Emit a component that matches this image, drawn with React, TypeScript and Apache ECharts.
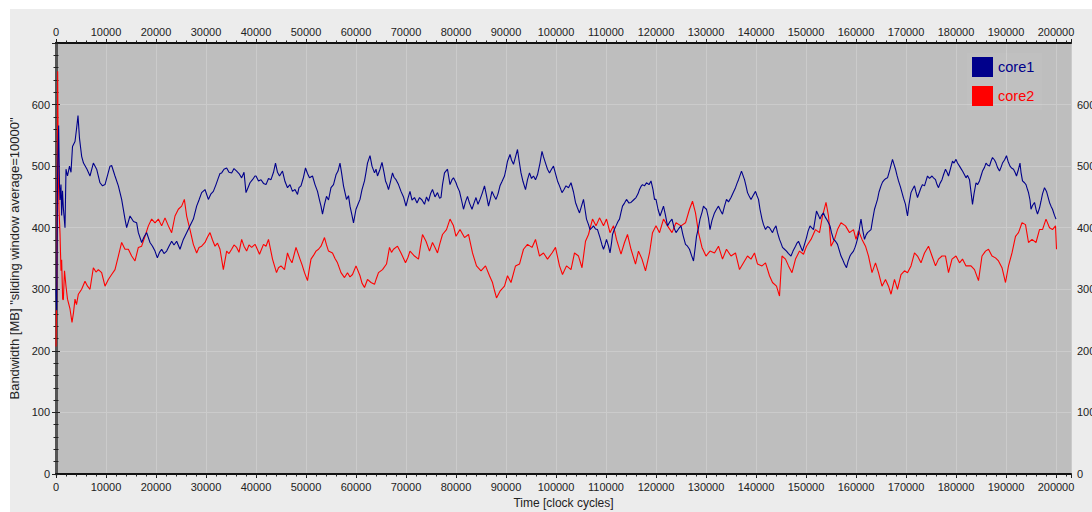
import React, { useEffect, useRef } from "react";
import * as echarts from "echarts";

const seriesNames = ["core1", "core2"];
const xTickStep = 10000;
const yTickStep = 100;

const core1Time = [0, 130, 300, 530, 700, 800, 1000, 1130, 1300, 1470, 1800, 2000, 2300, 2700, 3000, 3300, 3800, 4100, 4400, 4700, 5130, 5500, 6200, 6800, 7470, 8130, 8800, 9300, 9800, 10300, 10800, 11130, 11800, 12470, 13130, 13800, 14130, 14800, 15500, 16130, 16470, 17130, 17600, 18130, 18800, 19300, 19800, 20270, 20700, 21130, 21600, 22130, 22600, 23130, 23600, 24130, 24800, 25470, 26130, 26800, 27470, 28130, 28600, 29130, 29800, 30470, 31000, 31470, 32000, 32470, 32800, 33130, 33600, 34130, 34600, 35130, 35600, 36130, 36600, 37130, 37600, 38000, 38400, 38800, 39300, 39800, 40000, 40500, 41000, 41500, 42000, 42500, 43000, 43500, 43900, 44300, 44700, 45300, 45800, 46300, 46800, 47300, 47800, 48300, 48600, 49000, 49500, 49900, 50300, 50700, 51300, 51800, 52300, 52700, 53000, 53300, 53700, 54100, 54500, 55000, 55500, 56000, 56400, 56800, 57100, 57500, 58100, 58500, 58800, 59200, 59500, 60000, 60400, 60800, 61200, 61700, 62000, 62300, 62800, 63200, 63700, 64000, 64300, 64800, 65200, 65600, 65900, 66200, 66500, 66900, 67300, 67600, 68000, 68500, 69000, 69500, 70000, 70400, 70800, 71200, 71700, 72200, 72700, 73200, 73700, 74100, 74500, 74900, 75300, 75800, 76300, 76700, 77000, 77300, 77700, 78300, 78800, 79200, 79500, 80000, 80300, 80700, 81100, 81500, 81900, 82300, 82700, 83200, 83600, 84000, 84400, 84800, 85200, 85700, 86100, 86500, 86900, 87200, 87600, 88000, 88400, 88800, 89200, 89700, 90000, 90300, 90800, 91100, 91500, 91900, 92300, 92600, 93000, 93400, 93900, 94300, 94700, 95100, 95500, 95900, 96300, 96800, 97200, 97500, 97900, 98300, 98700, 99100, 99500, 99900, 100300, 100700, 101200, 101600, 102000, 102500, 103000, 103500, 103900, 104300, 104700, 105100, 105500, 105800, 106100, 106500, 106800, 107200, 107500, 107900, 108300, 108800, 109200, 109500, 109800, 110100, 110500, 110800, 111100, 111300, 111700, 112000, 112400, 112700, 113000, 113300, 113700, 114100, 114600, 115000, 115500, 116000, 116400, 116700, 117000, 117300, 117700, 118100, 118600, 119000, 119400, 119700, 120000, 120400, 120800, 121200, 121500, 121900, 122300, 122800, 123200, 123600, 124000, 124500, 125000, 125400, 125900, 126300, 126700, 127100, 127500, 127800, 128100, 128500, 128800, 129200, 129500, 129800, 130100, 130500, 130800, 131200, 131700, 132100, 132500, 132900, 133300, 133700, 134100, 134500, 135000, 135500, 135900, 136200, 136500, 136800, 137100, 137400, 137700, 138000, 138300, 138600, 139000, 139400, 139900, 140200, 140500, 140800, 141200, 141500, 141900, 142300, 142700, 143000, 143300, 143600, 144000, 144300, 144700, 145000, 145300, 145700, 146100, 146500, 147000, 147400, 147900, 148200, 148500, 148900, 149300, 149700, 150100, 150400, 150800, 151100, 151500, 151800, 152100, 152500, 152800, 153100, 153500, 153800, 154100, 154500, 154800, 155100, 155500, 155900, 156300, 156700, 157000, 157400, 157700, 158100, 158400, 158800, 159100, 159500, 159800, 160000, 160300, 160500, 160800, 161000, 161300, 161700, 162000, 162300, 162600, 163000, 163300, 163700, 164000, 164300, 164600, 165000, 165300, 165700, 166000, 166300, 166800, 167300, 167600, 167900, 168200, 168500, 168900, 169200, 169500, 169900, 170100, 170300, 170600, 171000, 171300, 171700, 172000, 172300, 172600, 173000, 173300, 173700, 174000, 174300, 174700, 175200, 175500, 175900, 176200, 176500, 176800, 177200, 177500, 177900, 178200, 178500, 178900, 179300, 179600, 180000, 180300, 180700, 181000, 181300, 181700, 182000, 182300, 182700, 183000, 183300, 183600, 184000, 184300, 184700, 185000, 185300, 185700, 186000, 186300, 186700, 187000, 187300, 187700, 188000, 188300, 188700, 189000, 189300, 189700, 190100, 190400, 190800, 191100, 191500, 191800, 192100, 192500, 192800, 193000, 193300, 193700, 194000, 194300, 194500, 194800, 195000, 195300, 195700, 196000, 196300, 196700, 197000, 197300, 197700, 198100, 198400, 198700, 199000, 199300, 199700, 200000];
const core1Bw = [300, 266, 480, 566, 470, 445, 470, 420, 460, 432, 400, 495, 484, 500, 490, 532, 540, 560, 582, 545, 516, 505, 495, 484, 505, 495, 473, 468, 470, 485, 500, 501, 484, 468, 446, 414, 400, 419, 410, 408, 392, 376, 385, 392, 376, 370, 362, 351, 360, 365, 358, 362, 370, 378, 372, 378, 365, 381, 392, 403, 414, 435, 445, 457, 462, 446, 455, 459, 470, 481, 488, 489, 495, 497, 490, 489, 496, 492, 488, 481, 490, 457, 465, 473, 478, 484, 484, 476, 478, 472, 470, 480, 478, 490, 505, 490, 484, 492, 475, 465, 470, 459, 462, 454, 465, 468, 482, 497, 488, 481, 484, 470, 459, 445, 435, 422, 438, 451, 445, 465, 470, 486, 492, 505, 490, 468, 446, 452, 435, 420, 408, 430, 438, 446, 462, 476, 490, 505, 517, 500, 489, 495, 484, 495, 506, 490, 476, 470, 462, 475, 489, 482, 478, 470, 459, 450, 435, 448, 459, 445, 449, 440, 449, 445, 438, 450, 443, 455, 462, 450, 457, 448, 449, 470, 489, 495, 470, 478, 481, 473, 466, 459, 445, 430, 442, 451, 440, 430, 440, 449, 438, 446, 455, 468, 452, 435, 448, 459, 452, 446, 455, 468, 475, 484, 495, 508, 519, 510, 503, 515, 527, 510, 489, 475, 462, 478, 489, 480, 484, 478, 486, 505, 524, 515, 505, 495, 489, 495, 500, 488, 476, 468, 457, 462, 468, 465, 473, 458, 441, 432, 424, 435, 446, 430, 414, 405, 397, 400, 403, 398, 397, 384, 372, 365, 372, 381, 370, 359, 375, 389, 398, 403, 410, 414, 425, 435, 440, 446, 440, 441, 445, 449, 455, 462, 467, 470, 468, 473, 470, 476, 462, 446, 446, 430, 419, 428, 435, 420, 403, 410, 414, 400, 392, 398, 403, 388, 373, 370, 365, 355, 346, 365, 386, 400, 414, 425, 435, 432, 430, 415, 397, 412, 424, 430, 435, 428, 422, 435, 446, 442, 449, 458, 465, 472, 478, 485, 492, 485, 478, 468, 457, 452, 446, 452, 459, 452, 446, 430, 414, 405, 397, 402, 400, 396, 392, 398, 403, 392, 381, 375, 368, 365, 362, 358, 354, 362, 370, 375, 378, 370, 362, 373, 384, 394, 403, 400, 397, 412, 427, 420, 414, 420, 424, 418, 414, 408, 403, 392, 381, 378, 373, 362, 354, 347, 341, 335, 345, 354, 358, 362, 368, 373, 382, 389, 405, 414, 398, 381, 388, 392, 394, 397, 412, 430, 438, 446, 458, 468, 474, 478, 480, 481, 495, 511, 503, 495, 485, 476, 466, 457, 448, 438, 428, 419, 438, 457, 462, 468, 458, 449, 456, 465, 470, 468, 476, 484, 480, 484, 481, 478, 470, 465, 472, 478, 486, 495, 490, 484, 496, 508, 505, 511, 505, 500, 496, 492, 486, 481, 485, 478, 458, 438, 455, 473, 470, 476, 484, 492, 498, 505, 502, 500, 508, 514, 510, 505, 498, 492, 498, 505, 510, 517, 508, 500, 497, 495, 490, 484, 495, 505, 490, 476, 473, 470, 462, 457, 445, 430, 436, 441, 430, 422, 432, 443, 455, 465, 459, 450, 441, 435, 430, 420, 414];

const core2Time = [0, 150, 330, 470, 600, 800, 1000, 1130, 1330, 1470, 1700, 2000, 2300, 2800, 3200, 3500, 3800, 4100, 4470, 5130, 5800, 6300, 6800, 7470, 8000, 8470, 9130, 9800, 10470, 11130, 11800, 12470, 13130, 13800, 14470, 15130, 15800, 16470, 17130, 17800, 18470, 19130, 19800, 20470, 21130, 21800, 22470, 23130, 23800, 24470, 25130, 25670, 26130, 26800, 27470, 28130, 28600, 29130, 29800, 30300, 30800, 31300, 31800, 32300, 32800, 33470, 34130, 34600, 35130, 35600, 36130, 36600, 37130, 37600, 38130, 38600, 39130, 39800, 40000, 40700, 41500, 42000, 42500, 43300, 44100, 44500, 45000, 45700, 46300, 46700, 47200, 48000, 48800, 49200, 49700, 50300, 50600, 51000, 51500, 52000, 52500, 53000, 53700, 54100, 54500, 55300, 55800, 56300, 57000, 57700, 58300, 58800, 59300, 60000, 60800, 61200, 61700, 62300, 63000, 63700, 64100, 64500, 65300, 66100, 66700, 67100, 67500, 68300, 69000, 69900, 70400, 70800, 71700, 72500, 72900, 73300, 74000, 74700, 75300, 75800, 76300, 76800, 77300, 78100, 78800, 79500, 80000, 80800, 81700, 82500, 83300, 84100, 85000, 85900, 86700, 87300, 87700, 88100, 88800, 89700, 90300, 91000, 91900, 92700, 93500, 94300, 95200, 95900, 96700, 97500, 98300, 99200, 99900, 100700, 101300, 102100, 103000, 103700, 104500, 105200, 105900, 106500, 107300, 108000, 108700, 109500, 110100, 110800, 111500, 112100, 113000, 113700, 114300, 115000, 115900, 116500, 117200, 117900, 118700, 119300, 120000, 120700, 121500, 122300, 123200, 124000, 125000, 125900, 126700, 127300, 127900, 128500, 129200, 130000, 130800, 131700, 132500, 133300, 134100, 135000, 135900, 136700, 137500, 138300, 139000, 139700, 140300, 141200, 141900, 142700, 143300, 144100, 144700, 145000, 145200, 145900, 146500, 147200, 147900, 148700, 149500, 150100, 151000, 151900, 152700, 153300, 154000, 154500, 155000, 155700, 156300, 157000, 157900, 158700, 159500, 160000, 160500, 161200, 161900, 162500, 163200, 163900, 164500, 165200, 165900, 166500, 167000, 167700, 168300, 169000, 169700, 170300, 171000, 171700, 172300, 173000, 173700, 174500, 175200, 175900, 176500, 177200, 177900, 178500, 179200, 180000, 180700, 181300, 182000, 183000, 183700, 184500, 185200, 185900, 186500, 187200, 187900, 188500, 189200, 189900, 190500, 191200, 191900, 192500, 193200, 193900, 194500, 195200, 196000, 196700, 197300, 198000, 198700, 199300, 199900, 200100];
const core2Bw = [207, 300, 654, 483, 430, 391, 330, 348, 284, 283, 330, 305, 284, 268, 246, 262, 284, 275, 292, 300, 313, 305, 300, 335, 328, 332, 327, 305, 316, 324, 332, 354, 376, 365, 365, 354, 346, 368, 370, 386, 403, 414, 408, 414, 403, 416, 403, 392, 419, 430, 435, 446, 419, 397, 373, 359, 368, 370, 376, 385, 392, 380, 370, 375, 365, 332, 362, 358, 365, 372, 368, 360, 381, 370, 362, 372, 368, 373, 370, 357, 373, 370, 381, 349, 327, 335, 338, 332, 359, 350, 343, 368, 349, 340, 327, 314, 330, 349, 355, 362, 365, 370, 384, 372, 362, 359, 350, 343, 327, 319, 327, 320, 324, 338, 322, 310, 303, 316, 311, 308, 318, 327, 332, 341, 368, 360, 365, 370, 359, 343, 352, 362, 354, 349, 370, 389, 378, 362, 376, 368, 359, 375, 389, 397, 414, 403, 386, 397, 384, 389, 359, 338, 330, 338, 322, 311, 298, 286, 297, 305, 322, 311, 338, 341, 365, 373, 368, 381, 354, 359, 349, 359, 368, 338, 324, 338, 332, 359, 354, 335, 378, 389, 414, 403, 416, 403, 414, 392, 403, 381, 357, 376, 389, 365, 341, 362, 349, 330, 359, 392, 403, 392, 414, 403, 392, 408, 403, 408, 430, 443, 424, 392, 368, 354, 362, 359, 370, 349, 365, 354, 359, 332, 343, 354, 349, 359, 341, 338, 343, 322, 311, 305, 289, 330, 354, 349, 338, 327, 349, 362, 357, 370, 381, 397, 392, 419, 441, 419, 370, 381, 397, 408, 403, 392, 397, 381, 395, 381, 370, 354, 327, 343, 327, 305, 316, 305, 292, 316, 300, 324, 330, 327, 338, 359, 354, 343, 359, 370, 354, 338, 349, 354, 354, 327, 349, 354, 343, 349, 338, 338, 332, 314, 354, 362, 365, 354, 351, 346, 335, 311, 338, 359, 386, 392, 408, 405, 376, 381, 376, 397, 397, 414, 400, 397, 403, 365];

const seriesTimes = [core1Time, core2Time];
const seriesValues = [core1Bw, core2Bw];
const seriesColors = ["#00008b", "#ff0000"];

export default function App() {
  const ref = useRef<HTMLDivElement>(null);
  useEffect(() => {
    if (!ref.current) return;
    const chart = echarts.init(ref.current, null, { renderer: "svg" });
    const font = "Liberation Sans, Arial, sans-serif";
    const labelStyle = { color: "#222", fontSize: 11, fontFamily: font };
    const xFmt = (v: number) => (v % xTickStep === 0 ? String(v) : "");
    const yFmt = (v: number) => (v >= 700 ? "" : String(v));
    const xCommon = {
      type: "value" as const,
      min: 0,
      max: 203000,
      interval: xTickStep,
      minorTick: { show: true, splitNumber: 5, length: 2.5, lineStyle: { color: "#222" } },
      axisTick: { show: true, length: 4, lineStyle: { color: "#222" } },
      axisLine: { show: true, onZero: false, lineStyle: { color: "#111", width: 2 } },
    };
    const yCommon = {
      type: "value" as const,
      min: 0,
      max: 700,
      interval: yTickStep,
      minorTick: { show: true, splitNumber: 5, length: 2.5, lineStyle: { color: "#222" } },
      axisTick: { show: true, length: 4, lineStyle: { color: "#222" } },
    };
    chart.setOption({
      animation: false,
      backgroundColor: "#ececec",
      grid: {
        left: 46,
        right: 21,
        top: 34,
        bottom: 38,
        show: true,
        containLabel: false,
        outerBoundsMode: "none",
        backgroundColor: "#bebebe",
        borderWidth: 0,
      },
      legend: {
        orient: "vertical",
        left: 957,
        top: 44,
        itemWidth: 21,
        itemHeight: 20,
        itemGap: 9,
        icon: "rect",
        backgroundColor: "rgba(255,255,255,0.04)",
        padding: [4, 8, 4, 5],
        data: seriesNames.map((n, i) => ({
          name: n,
          textStyle: { color: seriesColors[i], fontSize: 14.5, fontFamily: font },
        })),
      },
      xAxis: [
        {
          ...xCommon,
          position: "bottom",
          name: "Time [clock cycles]",
          nameLocation: "middle",
          nameGap: 23,
          nameTextStyle: { color: "#222", fontSize: 12, fontFamily: font },
          axisLabel: { ...labelStyle, margin: 7, formatter: xFmt, showMaxLabel: false },
          splitLine: { show: true, lineStyle: { color: "#cbcbcb", width: 1 } },
        },
        {
          ...xCommon,
          position: "top",
          axisLabel: { ...labelStyle, margin: 6, formatter: xFmt, showMaxLabel: false },
          splitLine: { show: false },
        },
      ],
      yAxis: [
        {
          ...yCommon,
          position: "left",
          name: 'Bandwidth [MB] "sliding window average=10000"',
          nameLocation: "middle",
          nameGap: 32,
          nameTextStyle: { color: "#222", fontSize: 13, fontFamily: font },
          axisLine: { show: true, lineStyle: { color: "#111", width: 2 } },
          axisLabel: { ...labelStyle, margin: 6, formatter: yFmt },
          splitLine: { show: true, lineStyle: { color: "#cbcbcb", width: 1 } },
        },
        {
          ...yCommon,
          position: "right",
          axisLine: { show: true, lineStyle: { color: "#555", width: 3 } },
          axisLabel: { ...labelStyle, margin: 6, formatter: yFmt },
          splitLine: { show: false },
        },
      ],
      series: seriesNames.map((n, i) => ({
        name: n,
        type: "line",
        xAxisIndex: 0,
        yAxisIndex: 0,
        showSymbol: false,
        symbol: "none",
        z: 3 - i,
        color: seriesColors[i],
        lineStyle: { color: seriesColors[i], width: 1.1 },
        data: seriesTimes[i].map((t, k) => [t, seriesValues[i][k]]),
      })),
    });
    return () => chart.dispose();
  }, []);
  return (
    <div
      ref={ref}
      style={{ position: "absolute", left: 10, top: 9, width: 1082, height: 503 }}
    />
  );
}
